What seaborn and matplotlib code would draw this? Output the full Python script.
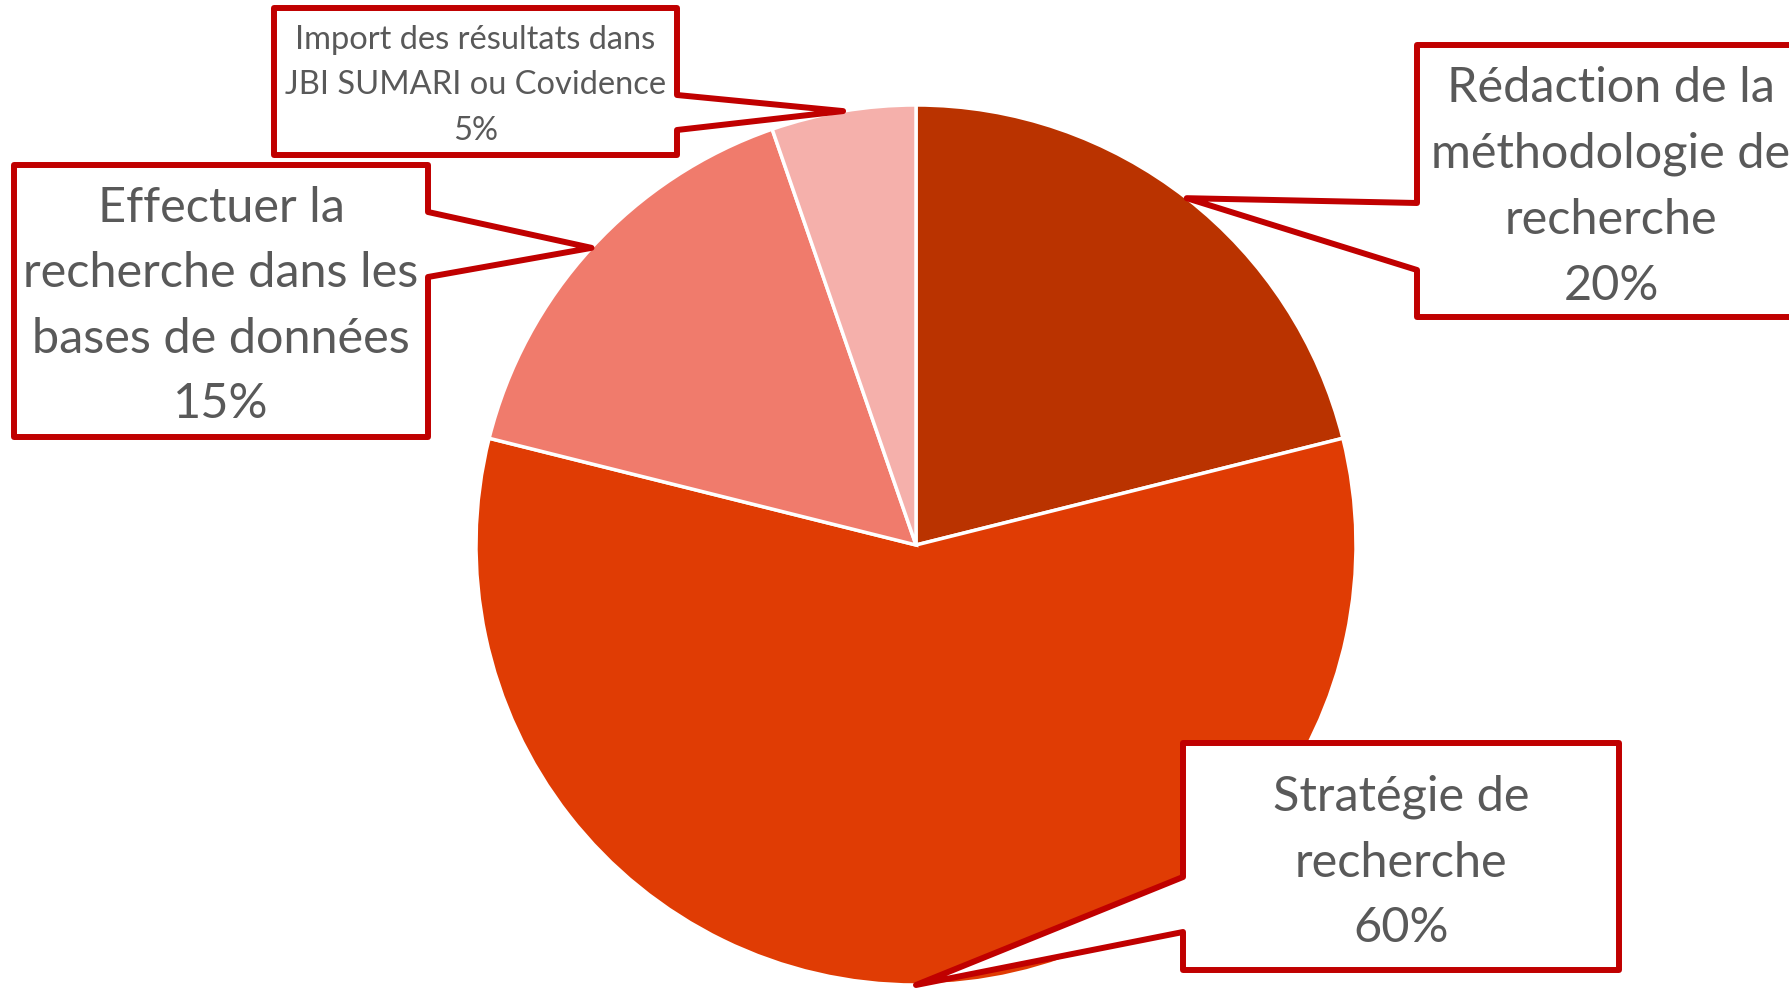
import numpy as np
import matplotlib
matplotlib.use("Agg")
import matplotlib.pyplot as plt
import seaborn as sns
from matplotlib.patches import Polygon

# ---- data ----
categories = [
    "Rédaction de la\nméthodologie de\nrecherche",
    "Stratégie de\nrecherche",
    "Effectuer la\nrecherche dans les\nbases de données",
    "Import des résultats dans\nJBI SUMARI ou Covidence",
]
slice_values = [21.1, 57.8, 15.8, 5.3]   # slice sizes
label_pcts = [20, 60, 15, 5]             # percentages printed in the labels
colors = ["#BA3300", "#E03C04", "#F07B6C", "#F5B0AB"]

sns.set_theme(style="white")
plt.rcParams['font.family'] = ['Lato', 'DejaVu Sans']

W, H = 1789, 988
fig = plt.figure(figsize=(W / 100, H / 100), dpi=100)
ax = fig.add_axes([0, 0, 1, 1])
cx, cy, R = 916, H - 545, 440

wedges, _ = ax.pie(slice_values, colors=sns.color_palette(colors), startangle=90,
                   counterclock=False, center=(cx, cy), radius=R,
                   wedgeprops=dict(edgecolor='white', linewidth=2.5))
ax.set_xlim(0, W)
ax.set_ylim(0, H)
ax.set_aspect('equal')
ax.axis('off')

# callout layouts (image pixel coords, y downward)
boxes = [
    dict(x0=1417, y0=45, x1=1805, y1=317, side='left', a=203, b=270, fs=35, ls=1.6, dy=6),
    dict(x0=1183, y0=743, x1=1619, y1=970, side='left', a=877, b=932, fs=35, ls=1.6, dy=6),
    dict(x0=14, y0=165, x1=428, y1=437, side='right', a=212, b=277, fs=35, ls=1.6, dy=5),
    dict(x0=274, y0=8, x1=677, y1=155, side='right', a=95, b=130, fs=23.5, ls=1.64, dy=4),
]

for w, cat, pct, bx in zip(wedges, categories, label_pcts, boxes):
    th = np.deg2rad((w.theta1 + w.theta2) / 2)
    tip = (cx + R * np.cos(th), cy + R * np.sin(th))
    x0, x1 = bx['x0'], bx['x1']
    y0, y1, a, b = H - bx['y0'], H - bx['y1'], H - bx['a'], H - bx['b']
    if bx['side'] == 'left':
        pts = [(x0, y0), (x1, y0), (x1, y1), (x0, y1), (x0, b), tip, (x0, a)]
    else:
        pts = [(x0, y0), (x1, y0), (x1, a), tip, (x1, b), (x1, y1), (x0, y1)]
    ax.add_patch(Polygon(pts, closed=True, facecolor='white', edgecolor='#C00000',
                         linewidth=4.3, joinstyle='round', zorder=5))
    ax.text((x0 + x1) / 2, (y0 + y1) / 2 - bx['dy'], f"{cat}\n{pct}%", ha='center', va='center',
            multialignment='center', fontsize=bx['fs'], linespacing=bx['ls'],
            color='#595959', zorder=6)

fig.savefig("out.png", dpi=100, facecolor='white')
